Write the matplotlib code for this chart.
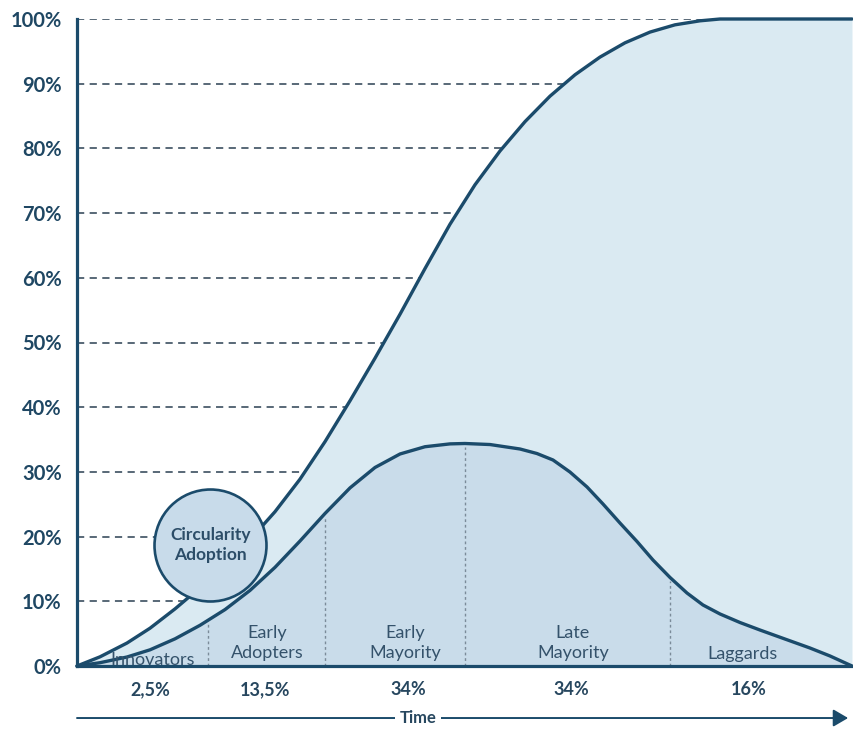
import numpy as np
import matplotlib
matplotlib.use("Agg")
import matplotlib.pyplot as plt
from matplotlib.transforms import blended_transform_factory

plt.rcParams['font.family'] = ['Lato', 'DejaVu Sans']

# Cumulative adoption (S-curve): time (0-100) vs. share of adopters (%)
s_time = [0.0, 2.97, 6.45, 9.42, 12.65, 15.87, 19.10, 22.32, 25.55, 28.77,
          32.0, 35.23, 38.45, 41.68, 44.90, 48.13, 51.35, 54.58, 57.81,
          61.03, 64.26, 67.48, 70.71, 73.94, 77.16, 80.39, 82.97, 100.0]
s_share = [0.0, 1.42, 3.55, 5.84, 8.83, 12.10, 15.64, 19.51, 23.85, 28.87,
           34.67, 41.00, 47.57, 54.37, 61.42, 68.28, 74.37, 79.60, 84.14,
           88.07, 91.38, 94.11, 96.32, 97.98, 99.10, 99.72, 100.0, 100.0]

# Adopter distribution (bell curve)
b_time = [0.0, 2.97, 6.45, 9.42, 12.65, 15.87, 19.10, 22.32, 25.55, 28.77,
          32.0, 35.23, 38.45, 41.68, 44.90, 48.13, 50.06, 53.29, 57.16,
          59.35, 61.42, 63.61, 65.81, 67.87, 70.06, 72.26, 74.32, 76.52,
          78.71, 80.77, 82.97, 85.55, 88.13, 91.35, 94.58, 97.16, 100.0]
b_share = [0.0, 0.51, 1.39, 2.50, 4.20, 6.29, 8.72, 11.68, 15.25, 19.31,
           23.57, 27.53, 30.68, 32.77, 33.89, 34.33, 34.39, 34.23, 33.54,
           32.84, 31.84, 29.98, 27.67, 25.04, 22.10, 19.24, 16.38, 13.68,
           11.28, 9.43, 8.04, 6.72, 5.56, 4.17, 2.78, 1.55, 0.0]

# Segment boundaries on the time axis
bounds = [16.9, 32.0, 50.1, 76.5]

seg_names = ["Innovators", "Early\nAdopters", "Early\nMayority",
             "Late\nMayority", "Laggards"]
seg_name_x = [9.8, 24.6, 42.3, 64.0, 85.9]
seg_name_y = [0.15, 1.2, 1.2, 1.2, 1.1]
seg_shares = ["2,5%", "13,5%", "34%", "34%", "16%"]
seg_share_x = [9.4, 24.3, 42.8, 63.8, 86.7]

y_ticks = [0, 10, 20, 30, 40, 50, 60, 70, 80, 90, 100]
y_tick_labels = [f"{v}%" for v in y_ticks]

circle_x, circle_y = 17.2, 18.7
circle_text = "Circularity\nAdoption"
axis_title = "Time"

navy = "#1b4b6b"
tick_col = "#1f4763"
text_col = "#34526b"
s_fill = "#daeaf2"
b_fill = "#c9dcea"
circ_fill = "#c8dbea"

fig = plt.figure(figsize=(8.54, 7.29), dpi=100)
ax = fig.add_axes([77 / 854, 1 - 666 / 729, 775 / 854, 647 / 729])
ax.set_xlim(0, 100)
ax.set_ylim(0, 100)

# dashed level lines, hidden under the filled S-curve
ax.hlines(y_ticks[1:], 0, 100, colors="#4b5d6c", linestyles=(0, (4, 3)),
          linewidth=1.3, zorder=1)

ax.fill_between(s_time, s_share, 0, color=s_fill, linewidth=0, zorder=2)
ax.fill_between(b_time, b_share, 0, color=b_fill, linewidth=0, zorder=3)

# dotted segment dividers under the bell curve
tops = np.interp(bounds, b_time, b_share)
for bx, top in zip(bounds, tops):
    ax.plot([bx, bx], [0, top - 0.6], color="#7b8b99", linewidth=1.0,
            linestyle=(0, (2, 2)), zorder=3.5)

ax.plot(s_time, s_share, color=navy, linewidth=2.4, zorder=4,
        solid_joinstyle="round", solid_capstyle="round", clip_on=False)
ax.plot(b_time, b_share, color=navy, linewidth=2.4, zorder=4,
        solid_joinstyle="round", solid_capstyle="round", clip_on=False)

# highlighted circle
ax.scatter([circle_x], [circle_y], s=6500, facecolor=circ_fill,
           edgecolor=navy, linewidth=1.9, zorder=5, clip_on=False)
ax.text(circle_x, circle_y, circle_text, ha="center", va="center",
        fontsize=12.5, fontweight="bold", color="#2c4d68",
        linespacing=1.25, zorder=6)

# segment names
for name, x, y in zip(seg_names, seg_name_x, seg_name_y):
    ax.text(x, y, name, ha="center", va="baseline", fontsize=13,
            color=text_col, linespacing=1.35, zorder=6)

# segment shares below the axis
trans = blended_transform_factory(ax.transData, ax.transAxes)
for lab, x in zip(seg_shares, seg_share_x):
    ax.text(x, -0.037, lab, ha="center", va="center", fontsize=13,
            fontweight="bold", color="#27475f", transform=trans)

# time arrow
ax.annotate("", xy=(99.5, -0.0804), xytext=(0, -0.0804),
            xycoords=trans, textcoords=trans, annotation_clip=False,
            arrowprops=dict(arrowstyle="-|>,head_length=0.6,head_width=0.35",
                            color=navy, lw=1.4, mutation_scale=15,
                            shrinkA=0, shrinkB=0))
ax.text(44.0, -0.0804, axis_title, ha="center", va="center", fontsize=12,
        fontweight="bold", color="#27475f", transform=trans,
        bbox=dict(fc="white", ec="none", pad=3))

ax.set_yticks(y_ticks)
ax.set_yticklabels(y_tick_labels)
ax.set_xticks([])
ax.tick_params(axis="y", length=0, pad=11, labelsize=14.5,
               labelcolor=tick_col)
for lab in ax.get_yticklabels():
    lab.set_fontweight("bold")

for side in ("top", "right"):
    ax.spines[side].set_visible(False)
for side in ("left", "bottom"):
    ax.spines[side].set_color(navy)
    ax.spines[side].set_linewidth(2.3)
    ax.spines[side].set_zorder(4.5)

fig.savefig("out.png", dpi=100)
